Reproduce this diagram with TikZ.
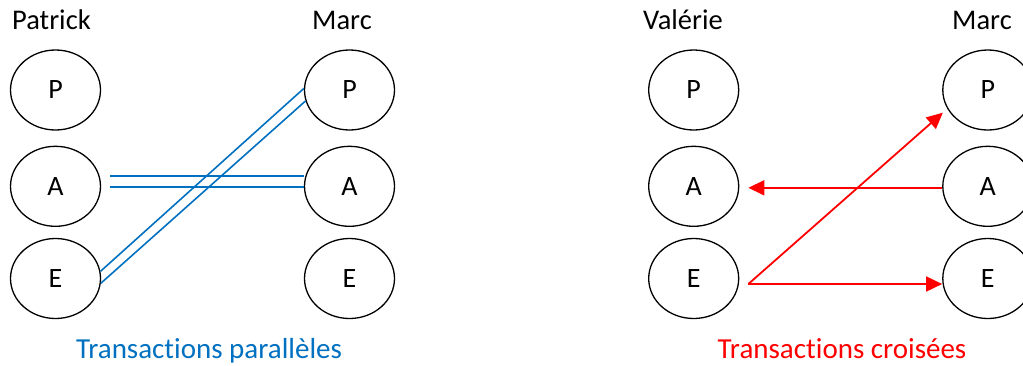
\documentclass[tikz,border=0pt]{standalone}
\usepackage{fontspec}
\setmainfont{Carlito}[RawFeature={-liga,-clig,-dlig,-calt}]
\usetikzlibrary{shapes.geometric,arrows.meta,calc}
\definecolor{tblue}{HTML}{0070C0}
\definecolor{tred}{HTML}{FF0000}
\begin{document}
\begin{tikzpicture}[x=1pt,y=-1pt,
  person/.style={ellipse,draw=black,line width=1.3pt,minimum width=90pt,minimum height=80pt,inner sep=0pt,font=\fontsize{28}{30}\selectfont},
  title/.style={anchor=base west,inner sep=0pt,font=\fontsize{28.5}{30}\selectfont},
  caption/.style={anchor=base,inner sep=0pt,font=\fontsize{29}{30}\selectfont},
  parline/.style={draw=tblue,line width=1.6pt},
  crossline/.style={draw=tred,line width=1.8pt,-{Triangle[length=16pt,width=15pt]}}]
\useasboundingbox (0,0) rectangle (1023,365);
\clip (0,0) rectangle (1023,365);
% left group
\node[title] (tPatrick) at (12,29) {Patrick};
\node[title] (tMarc1) at (312,29) {Marc};
\node[person] (pP) at (55.5,90) {P};
\node[person] (pA) at (55.5,186.3) {A};
\node[person] (pE) at (55.5,278.5) {E};
\node[person] (mP) at (349.5,90) {P};
\node[person] (mA) at (349.5,186.3) {A};
\node[person] (mE) at (349.5,278.5) {E};
\node[caption,text=tblue] (cap1) at (209,358) {Transact\kern0pt ions parallèles};
\draw[parline] ([xshift=9pt,yshift=10.5pt]pA.east) -- ([yshift=10.5pt]mA.west);
\draw[parline] ([xshift=9pt,yshift=-0.8pt]pA.east) -- ([yshift=-0.8pt]mA.west);
\draw[parline] (pE.9) -- (mP.178);
\draw[parline] (pE.-6.5) -- (mP.194);
% right group
\node[title] (tValerie) at (643,29) {Valérie};
\node[title] (tMarc2) at (952,29) {Marc};
\node[person] (vP) at (693.7,90) {P};
\node[person] (vA) at (693.7,186.3) {A};
\node[person] (vE) at (693.7,278.5) {E};
\node[person] (wP) at (987.8,90) {P};
\node[person] (wA) at (987.8,186.3) {A};
\node[person] (wE) at (987.8,278.5) {E};
\node[caption,text=tred] (cap2) at (842,358) {Transact\kern0pt ions croisées};
\coordinate (start) at ($(vE.east)+(9,5.5)$);
\draw[crossline] ([yshift=-1.5pt]wA.west) -- ([xshift=9pt,yshift=-1.5pt]vA.east);
\draw[crossline] (start) -- ([yshift=-5.5pt]wE.west);
\draw[crossline] (start) -- ($(wP.center)+(-45,22.7)$);
\end{tikzpicture}
\end{document}
